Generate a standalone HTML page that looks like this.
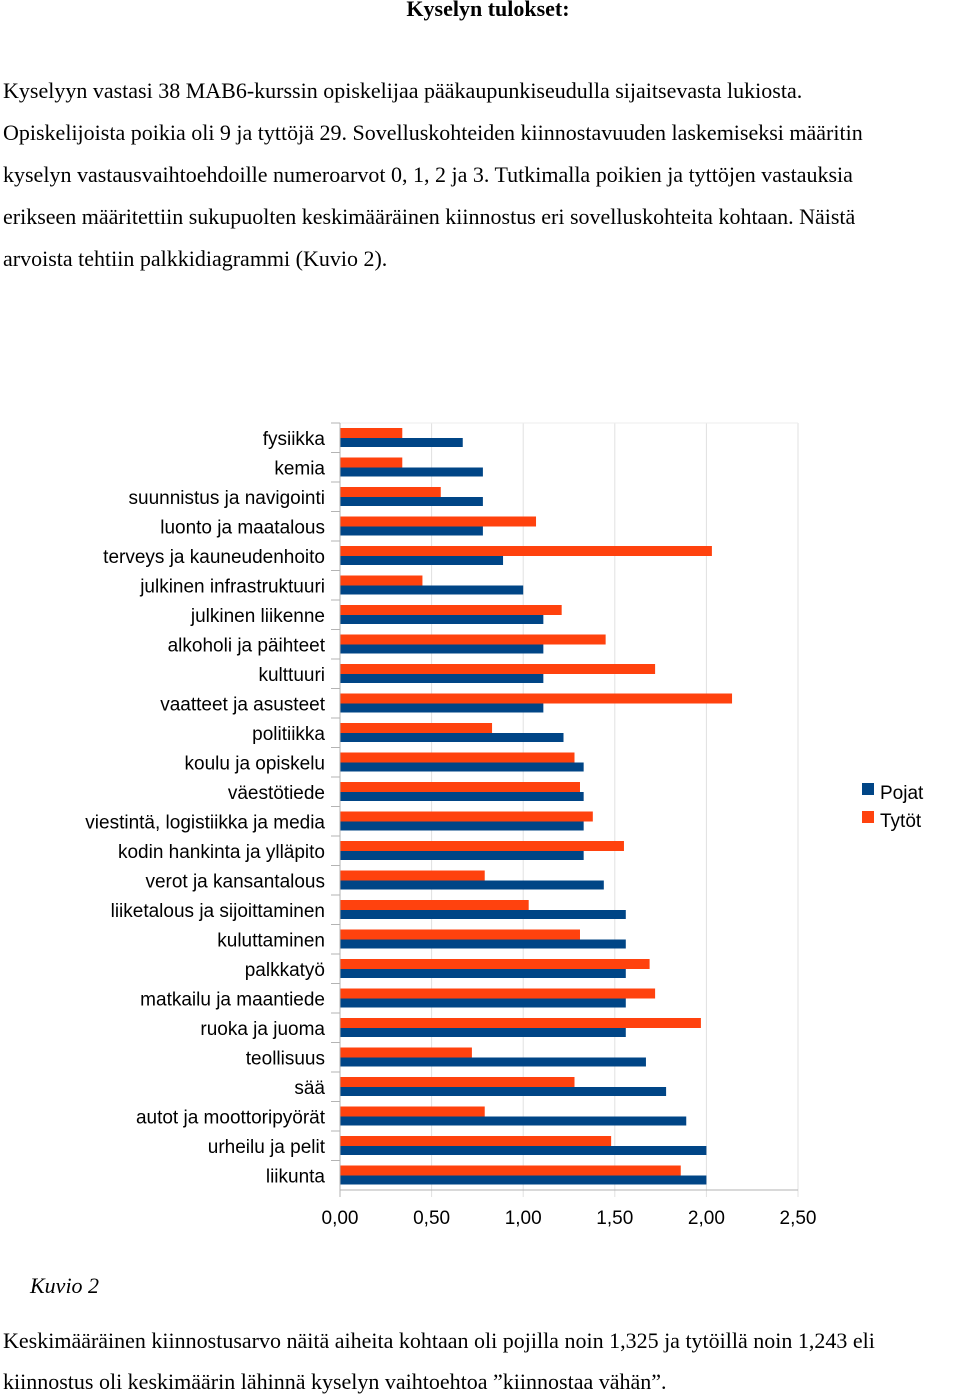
<!DOCTYPE html>
<html><head><meta charset="utf-8">
<style>
body{margin:0;width:960px;height:1397px;background:#fff;position:relative;overflow:hidden}
.t{position:absolute;font-family:"Liberation Serif",serif;font-size:22px;color:#000;white-space:nowrap;left:3px}
h1{position:absolute;top:-6px;left:0;width:976px;text-align:center;font-family:"Liberation Serif",serif;font-size:22px;font-weight:bold;margin:0;line-height:30px}
svg{position:absolute;left:0;top:0}
svg text{font-family:"Liberation Sans",sans-serif;font-size:19px;fill:#000}
</style></head><body>
<h1>Kyselyn tulokset:</h1>
<div class="t" style="top:78px">Kyselyyn vastasi 38 MAB6-kurssin opiskelijaa pääkaupunkiseudulla sijaitsevasta lukiosta.</div>
<div class="t" style="top:120px">Opiskelijoista poikia oli 9 ja tyttöjä 29. Sovelluskohteiden kiinnostavuuden laskemiseksi määritin</div>
<div class="t" style="top:162px">kyselyn vastausvaihtoehdoille numeroarvot 0, 1, 2 ja 3. Tutkimalla poikien ja tyttöjen vastauksia</div>
<div class="t" style="top:204px">erikseen määritettiin sukupuolten keskimääräinen kiinnostus eri sovelluskohteita kohtaan. Näistä</div>
<div class="t" style="top:246px">arvoista tehtiin palkkidiagrammi (Kuvio 2).</div>
<div class="t" style="top:1273px;left:30px;font-style:italic">Kuvio 2</div>
<div class="t" style="top:1328px">Keskimääräinen kiinnostusarvo näitä aiheita kohtaan oli pojilla noin 1,325 ja tytöillä noin 1,243 eli</div>
<div class="t" style="top:1369px">kiinnostus oli keskimäärin lähinnä kyselyn vaihtoehtoa ”kiinnostaa vähän”.</div>
<svg id="chart" width="960" height="1397"></svg>
<script>
const categories=["fysiikka","kemia","suunnistus ja navigointi","luonto ja maatalous","terveys ja kauneudenhoito","julkinen infrastruktuuri","julkinen liikenne","alkoholi ja päihteet","kulttuuri","vaatteet ja asusteet","politiikka","koulu ja opiskelu","väestötiede","viestintä, logistiikka ja media","kodin hankinta ja ylläpito","verot ja kansantalous","liiketalous ja sijoittaminen","kuluttaminen","palkkatyö","matkailu ja maantiede","ruoka ja juoma","teollisuus","sää","autot ja moottoripyörät","urheilu ja pelit","liikunta"];
const pojat=[0.67,0.78,0.78,0.78,0.89,1.00,1.11,1.11,1.11,1.11,1.22,1.33,1.33,1.33,1.33,1.44,1.56,1.56,1.56,1.56,1.56,1.67,1.78,1.89,2.00,2.00];
const tytot=[0.34,0.34,0.55,1.07,2.03,0.45,1.21,1.45,1.72,2.14,0.83,1.28,1.31,1.38,1.55,0.79,1.03,1.31,1.69,1.72,1.97,0.72,1.28,0.79,1.48,1.86];
const ticks=[0,0.5,1,1.5,2,2.5];
const tickLabels=["0,00","0,50","1,00","1,50","2,00","2,50"];
const NS="http://www.w3.org/2000/svg",svg=document.getElementById('chart');
const x0=340,xs=183.2,top0=423,rowH=29.5;
const X=v=>x0+v*xs, Y=i=>top0+i*rowH;
function mk(t,a){const e=document.createElementNS(NS,t);for(const k in a)e.setAttribute(k,a[k]);svg.appendChild(e);return e;}
const bottom=Y(categories.length);
ticks.forEach((t,i)=>{
 const g=mk('line',{x1:X(t),x2:X(t),y1:top0,y2:bottom+7,stroke:i?'#e0e0e0':'#b3b3b3','stroke-width':1});
 
 
 const l=mk('text',{x:X(t),y:1224,'text-anchor':'middle'});l.textContent=tickLabels[i];
 
 
});
mk('line',{x1:x0,x2:X(2.5),y1:top0,y2:top0,stroke:'#eee'});
mk('line',{x1:x0,x2:X(2.5),y1:bottom,y2:bottom,stroke:'#b3b3b3'});
categories.forEach((c,i)=>{
 const tk=mk('line',{x1:331,x2:x0,y1:Y(i),y2:Y(i),stroke:'#b3b3b3'});
 
 
 const o=mk('rect',{x:x0,y:Y(i)+5,width:X(tytot[i])-x0,height:10,fill:'#ff420e'});
 
 
 const b=mk('rect',{x:x0,y:Y(i)+15,width:X(pojat[i])-x0,height:9,fill:'#004586'});
 
 
 const t=mk('text',{x:325,y:Y(i)+22,'text-anchor':'end'});t.textContent=c;
 
 
});
mk('line',{x1:x0,x2:x0,y1:top0,y2:bottom+7,stroke:'#b3b3b3'});
[["Pojat","#004586",792],["Tytöt","#ff420e",820]].forEach(([n,c,y])=>{
 const r=mk('rect',{x:862,y:y-9,width:12,height:12,fill:c});
 
 
 const t=mk('text',{x:880,y:y+7});t.textContent=n;
 
 
});
</script>
</body></html>
